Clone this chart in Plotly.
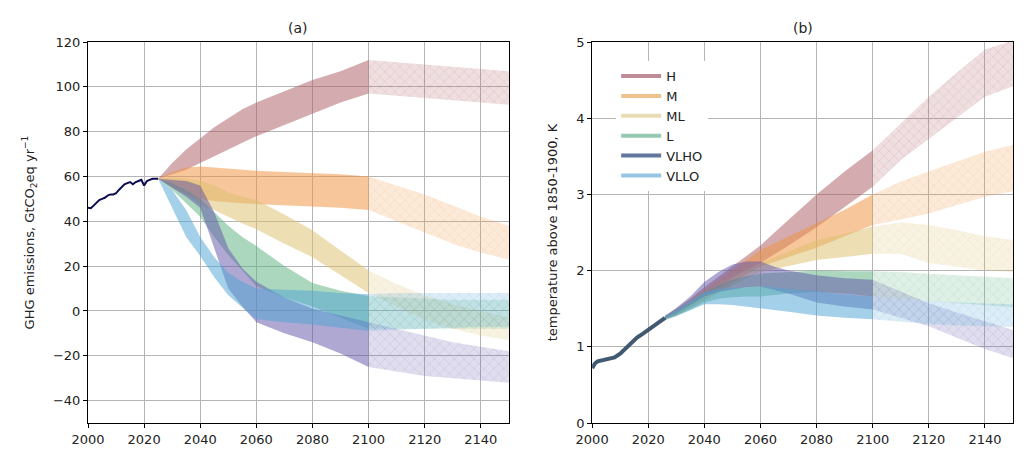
import plotly.graph_objects as go

# ---------------- data ----------------
SCEN = ["H", "M", "ML", "L", "VLHO", "VLLO"]
BASE = {
    "H": (173, 94, 102),
    "M": (239, 148, 64),
    "ML": (220, 191, 110),
    "L": (93, 179, 131),
    "VLHO": (100, 88, 168),
    "VLLO": (82, 164, 213),
}
LEGEND_COL = {
    "H": (188, 140, 152),
    "M": (238, 196, 140),
    "ML": (232, 220, 180),
    "L": (150, 200, 178),
    "VLHO": (98, 118, 158),
    "VLLO": (150, 198, 228),
}

# (a) GHG emissions
HIST_YEARS = list(range(2000, 2026))
HIST_GHG = [46, 45.8, 47, 48.5, 49.5, 50, 50.5, 51.5, 52, 52, 52.5, 54, 55.5, 56.5,
            57, 57.5, 56.5, 57.5, 58, 58.5, 56, 58, 58.5, 59, 59, 59]

YR_A = [2025, 2030, 2035, 2040, 2045, 2050, 2055, 2060, 2070, 2080, 2090, 2100]
YR_EXT = [2100, 2110, 2120, 2130, 2140, 2150]

GHG_UP = {
    "H": [59, 66, 72, 77, 82, 86, 90, 93, 98, 103, 107, 112],
    "M": [59, 62, 64, 64.5, 64, 63.5, 63, 62.5, 62, 61.5, 61, 60],
    "ML": [59, 59.5, 59, 58, 56, 53, 51, 49.5, 43, 36, 27, 18],
    "L": [59, 57, 54, 50, 44, 38, 33, 29, 20, 12.5, 9, 6.5],
    "VLHO": [59, 58.5, 58, 56, 44, 28, 19, 13, 6, 1, -2, -5],
    "VLLO": [59, 54, 45, 33, 24, 17, 13, 10, 9.5, 9, 8, 7.5],
}
GHG_LO = {
    "H": [59, 61, 63, 66, 69, 72, 75, 78, 83, 88, 93, 97],
    "M": [59, 55, 52, 50, 49, 48.5, 48, 47.5, 47, 46.5, 46, 45],
    "ML": [59, 56, 52, 47.5, 45, 42, 39, 36.5, 30, 24, 16, 8],
    "L": [59, 54, 48, 42, 33, 25, 18, 11, 6, 2, -3, -8],
    "VLHO": [59, 55, 51, 46, 28, 10, 2, -5, -10, -14, -19, -25],
    "VLLO": [59, 46, 33, 24.5, 15, 7, 1.5, -3.7, -5, -6, -7.5, -9],
}
GHG_EXT_UP = {
    "H": [112, 111, 110, 109, 108, 107],
    "M": [60, 56, 52, 47, 42, 38],
    "ML": [18, 12, 7, 3, 0, -3],
    "L": [6.5, 6, 5.5, 5, 5, 5],
    "VLHO": [-5, -8, -11, -14, -16, -18],
    "VLLO": [7.5, 8, 8, 8, 8, 8],
}
GHG_EXT_LO = {
    "H": [97, 96, 95, 94, 93, 92],
    "M": [45, 40, 35, 30, 26, 23],
    "ML": [8, 2, -4, -8, -11, -13],
    "L": [-8, -8, -8, -8, -8, -8],
    "VLHO": [-25, -27, -29, -30, -31, -32],
    "VLLO": [-9, -8.5, -8, -7.5, -7, -7],
}

# (b) temperature
HIST_T_YEARS = [2000, 2001, 2002, 2004, 2006, 2008, 2010, 2012, 2014, 2016, 2018, 2020, 2022, 2024, 2026]
HIST_T = [0.72, 0.78, 0.81, 0.83, 0.84, 0.86, 0.91, 0.98, 1.05, 1.12, 1.17, 1.22, 1.28, 1.33, 1.38]

YR_B = [2026, 2030, 2035, 2040, 2045, 2050, 2055, 2060, 2065, 2070, 2080, 2090, 2100]
T_UP = {
    "H": [1.40, 1.50, 1.63, 1.78, 1.92, 2.05, 2.19, 2.33, 2.50, 2.67, 3.0, 3.3, 3.58],
    "M": [1.40, 1.49, 1.61, 1.75, 1.88, 2.0, 2.14, 2.27, 2.36, 2.45, 2.62, 2.8, 3.0],
    "ML": [1.40, 1.48, 1.60, 1.72, 1.83, 1.92, 2.02, 2.1, 2.18, 2.25, 2.4, 2.48, 2.58],
    "L": [1.40, 1.48, 1.59, 1.72, 1.81, 1.88, 1.93, 1.96, 1.97, 1.98, 2.0, 1.99, 1.99],
    "VLHO": [1.41, 1.51, 1.66, 1.85, 1.98, 2.08, 2.12, 2.12, 2.05, 2.0, 1.94, 1.9, 1.88],
    "VLLO": [1.40, 1.49, 1.61, 1.72, 1.76, 1.77, 1.78, 1.79, 1.78, 1.76, 1.73, 1.69, 1.66],
}
T_LO = {
    "H": [1.36, 1.42, 1.53, 1.66, 1.78, 1.9, 2.0, 2.1, 2.21, 2.33, 2.57, 2.83, 3.1],
    "M": [1.36, 1.41, 1.51, 1.62, 1.74, 1.85, 1.95, 2.05, 2.12, 2.18, 2.3, 2.45, 2.6],
    "ML": [1.36, 1.41, 1.50, 1.60, 1.70, 1.8, 1.9, 1.98, 2.02, 2.06, 2.14, 2.18, 2.22],
    "L": [1.36, 1.41, 1.49, 1.58, 1.63, 1.65, 1.66, 1.66, 1.68, 1.7, 1.72, 1.7, 1.66],
    "VLHO": [1.37, 1.44, 1.55, 1.66, 1.72, 1.75, 1.78, 1.79, 1.75, 1.7, 1.58, 1.53, 1.49],
    "VLLO": [1.35, 1.40, 1.48, 1.56, 1.56, 1.55, 1.53, 1.51, 1.48, 1.46, 1.41, 1.38, 1.36],
}
T_EXT_UP = {
    "H": [3.58, 3.93, 4.28, 4.6, 4.9, 5.02],
    "M": [3.0, 3.17, 3.3, 3.43, 3.56, 3.65],
    "ML": [2.58, 2.63, 2.6, 2.53, 2.45, 2.4],
    "L": [1.99, 1.98, 1.96, 1.94, 1.92, 1.9],
    "VLHO": [1.88, 1.72, 1.57, 1.45, 1.33, 1.22],
    "VLLO": [1.66, 1.63, 1.6, 1.58, 1.57, 1.56],
}
T_EXT_LO = {
    "H": [3.1, 3.45, 3.72, 4.0, 4.28, 4.42],
    "M": [2.6, 2.67, 2.75, 2.86, 2.97, 3.04],
    "ML": [2.22, 2.22, 2.1, 2.05, 2.0, 1.98],
    "L": [1.66, 1.63, 1.6, 1.57, 1.54, 1.52],
    "VLHO": [1.49, 1.38, 1.27, 1.12, 0.97, 0.85],
    "VLLO": [1.36, 1.33, 1.3, 1.28, 1.27, 1.26],
}


def rgba(c, a):
    return "rgba(%d,%d,%d,%.3f)" % (c[0], c[1], c[2], a)


fig = go.Figure()


def add_band(xa, ya, years, up, lo, col, hatched):
    xs = list(years) + list(years)[::-1]
    ys = list(up) + list(lo)[::-1]
    kw = dict(x=xs, y=ys, xaxis=xa, yaxis=ya, mode="lines", line=dict(width=0),
              fill="toself", showlegend=False, hoverinfo="skip")
    if hatched:
        kw["fillcolor"] = rgba(col, 0.2)
        kw["fillpattern"] = dict(shape="x", fgcolor=rgba(col, 0.5), bgcolor=rgba(col, 0.2),
                                 size=7, solidity=0.14)
    else:
        kw["fillcolor"] = rgba(col, 0.52)
    fig.add_trace(go.Scatter(**kw))


for s in SCEN:
    add_band("x", "y", YR_A, GHG_UP[s], GHG_LO[s], BASE[s], False)
    add_band("x", "y", YR_EXT, GHG_EXT_UP[s], GHG_EXT_LO[s], BASE[s], True)
    add_band("x2", "y2", YR_B, T_UP[s], T_LO[s], BASE[s], False)
    add_band("x2", "y2", YR_EXT, T_EXT_UP[s], T_EXT_LO[s], BASE[s], True)

fig.add_trace(go.Scatter(x=HIST_YEARS, y=HIST_GHG, xaxis="x", yaxis="y", mode="lines",
                         line=dict(color="#0b0b4f", width=2), showlegend=False, hoverinfo="skip"))
fig.add_trace(go.Scatter(x=HIST_T_YEARS, y=HIST_T, xaxis="x2", yaxis="y2", mode="lines",
                         line=dict(color="rgba(55,80,105,0.95)", width=4), showlegend=False,
                         hoverinfo="skip"))

# legend entries
for s in SCEN:
    fig.add_trace(go.Scatter(x=[None], y=[None], xaxis="x2", yaxis="y2", mode="lines",
                             line=dict(color=rgba(LEGEND_COL[s], 1.0), width=4), name=s))

FONT = "DejaVu Sans"
axis_common = dict(showline=True, linecolor="black", linewidth=1, mirror=True,
                   ticks="outside", ticklen=4, tickcolor="black", showgrid=True,
                   gridcolor="#b5b5b5", gridwidth=1, zeroline=False, automargin=False,
                   tickfont=dict(family=FONT, size=13, color="#222"))

# page body has an 8px margin: figure is sized to fit inside the window
fig.update_layout(
    width=1016, height=449,
    margin=dict(l=80, r=11, t=34, b=34),
    paper_bgcolor="white", plot_bgcolor="white",
    font=dict(family=FONT, size=13, color="#222"),
    xaxis=dict(domain=[0, 0.455], range=[2000, 2150], tickvals=list(range(2000, 2150, 20)),
               **axis_common),
    yaxis=dict(range=[-50, 120], tickvals=list(range(-40, 121, 20)),
               ticktext=[("\u2212%d" % -v) if v < 0 else str(v) for v in range(-40, 121, 20)],
               title=dict(text="GHG emissions, GtCO<sub>2</sub>eq yr<sup>\u22121</sup>",
                          font=dict(family=FONT, size=13)), **axis_common),
    xaxis2=dict(domain=[0.545, 1], range=[2000, 2150], tickvals=list(range(2000, 2150, 20)),
                anchor="y2", **axis_common),
    yaxis2=dict(range=[0, 5], tickvals=[0, 1, 2, 3, 4, 5], anchor="x2",
                title=dict(text="temperature above 1850-1900, K", font=dict(family=FONT, size=13)),
                **axis_common),
    legend=dict(x=0.571, y=0.95, xanchor="left", yanchor="top", bgcolor="white",
                borderwidth=0, font=dict(family=FONT, size=13), tracegroupgap=0,
                itemwidth=40),
    annotations=[
        dict(text="(a)", x=0.2275, y=1, xref="paper", yref="paper", xanchor="center",
             yanchor="bottom", yshift=4, showarrow=False, font=dict(family=FONT, size=14)),
        dict(text="(b)", x=0.7725, y=1, xref="paper", yref="paper", xanchor="center",
             yanchor="bottom", yshift=4, showarrow=False, font=dict(family=FONT, size=14)),
    ],
)

fig.write_html("out.html")
